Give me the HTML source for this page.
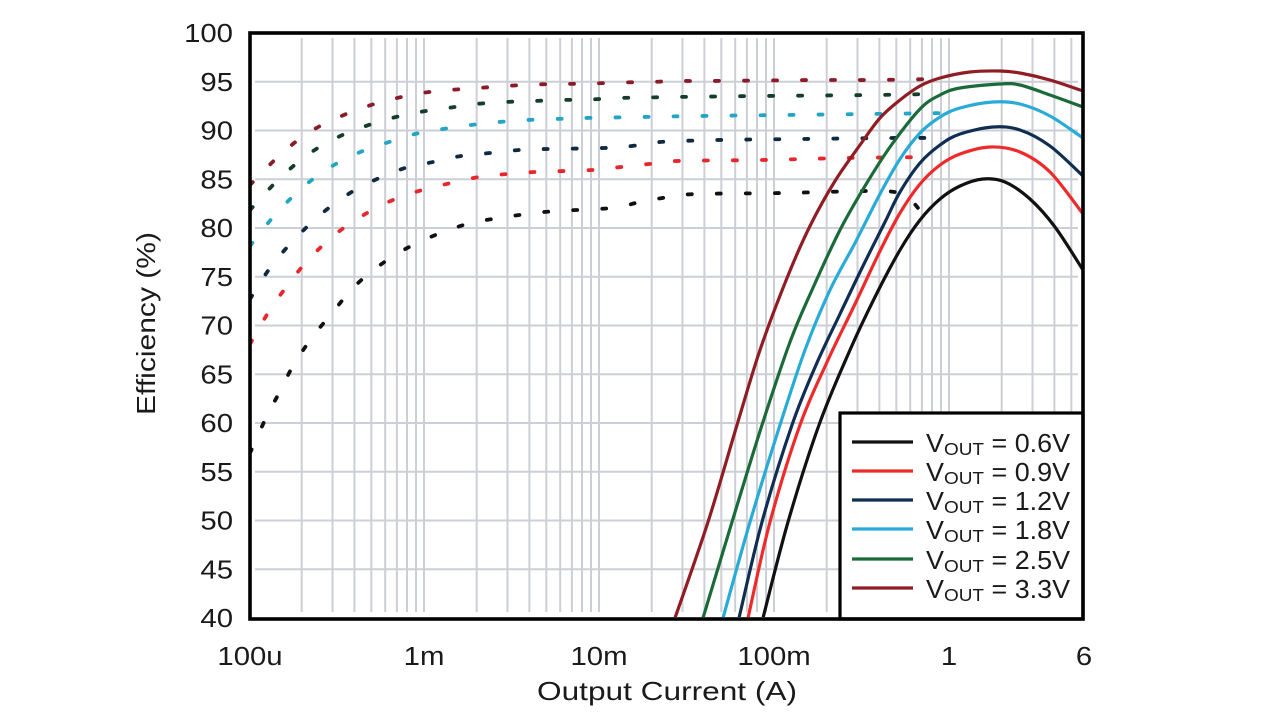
<!DOCTYPE html>
<html><head><meta charset="utf-8"><style>
html,body{margin:0;padding:0;background:#fff;}
svg{display:block;font-family:"Liberation Sans",Arial,sans-serif;}
</style></head><body>
<svg id="chart" width="1280" height="721" viewBox="0 0 1280 721" xmlns="http://www.w3.org/2000/svg">
<defs><clipPath id="pc"><rect x="251" y="35" width="831" height="582"/></clipPath></defs>
<rect width="1280" height="721" fill="#fff"/>
<!-- grid -->
<g stroke="#cdcfd6" stroke-width="2" fill="none">
<path d="M301.7,38V612M332.5,38V612M354.4,38V612M371.3,38V612M385.2,38V612M396.9,38V612M407,38V612M416,38V612M424,38V612
M476.7,38V612M507.5,38V612M529.4,38V612M546.3,38V612M560.2,38V612M571.9,38V612M582,38V612M591,38V612M599,38V612
M651.7,38V612M682.5,38V612M704.4,38V612M721.3,38V612M735.2,38V612M746.9,38V612M757,38V612M766,38V612M774,38V612
M826.7,38V612M857.5,38V612M879.4,38V612M896.3,38V612M910.2,38V612M921.9,38V612M932,38V612M941,38V612M949,38V612
M1001.7,38V612M1032.5,38V612M1054.4,38V612M1071.3,38V612"/>
<path d="M255,81.75H1078M255,130.5H1078M255,179.25H1078M255,228H1078M255,276.75H1078M255,325.5H1078M255,374.25H1078M255,423H1078M255,471.75H1078M255,520.5H1078M255,569.25H1078"/>
</g>
<g clip-path="url(#pc)" fill="none" stroke-linejoin="round">
<!-- dotted (light load) -->
<g stroke-width="3.8" stroke-linecap="round" stroke-dasharray="4 25">
<polyline class="sm" stroke="#8b1b28" points="250,185 280,155 308,133 337,118 365,107 393,99 422,93 450,90 478,88 506,86 535,84.5 563,84 591,83.5 620,82.5 649,82 677,81 705,81 762,80.5 818,80 875,80 935,79"/>
<polyline class="sm" stroke="#143d2a" points="250,210 278,180 306,156 334,139 363,127 392,118 420,112 448,108 476,104 505,102 533,101 562,100 590,99.5 619,98 647,97.5 675,97 760,96 873,95 932,94"/>
<polyline class="sm" stroke="#22a6c4" points="250,246 274,216 302,188 329,168 358,153 386,143 415,134 443,129 471,125 499,122 527,120 556,119 584,118 641,117 697,116 783,115 868,114 950,113"/>
<polyline class="sm" stroke="#0f2940" points="250,299 270,268 292,242 320,215 350,193 377,179 405,168 433,162 461,156 490,153 519,150 547,149 604,148 632,146 660,142 717,140 802,139 887,138 945,138"/>
<polyline class="sm" stroke="#e8262c" points="250,344 268,313 287,286 309,259 337,233 367,213 393,200 422,190 451,183 479,177 507,174 535,172 592,170 621,167 649,164 677,161 763,160 846,158 933,157"/>
<polyline class="sm" stroke="#111" points="250,453 265,420 279,393 293,366 311,339 332,313 356,285 383,263 411,246 443,232 471,223 499,218 527,214 556,211 612,208 640,202 669,197 697,194 782,193 866,191 895,192 908,197 918,208"/>
</g>
<!-- solid -->
<g stroke-width="3.2">
<polyline class="sm" stroke="#111" points="763,618 788,522 819,425 850,350 875,297 900,250 920,220 940,199 960,186 983,179 1005,182 1030,199 1055,227 1083,270"/>
<polyline class="sm" stroke="#ee2a2a" points="748,618 770,522 800,425 828,360 855,304 880,251 900,213 920,184 940,165 960,154 990,147 1020,152 1050,172 1083,214"/>
<polyline class="sm" stroke="#0f2e52" points="739,618 762,522 792,425 816,365 840,314 862,268 885,222 900,192 920,163 940,145 960,134 993,127 1020,130 1050,146 1083,176"/>
<polyline class="sm" stroke="#29abd8" points="723,618 750,522 780,425 805,350 830,290 855,243 880,194 900,159 920,133 940,117 960,108 993,102 1020,104 1050,116 1083,138"/>
<polyline class="sm" stroke="#1a6a3a" points="703,618 732,522 762,425 790,342 812,290 840,230 865,186 890,147 920,109 940,95 960,88 1000,84 1020,85 1050,95 1083,107"/>
<polyline class="sm" stroke="#8f1d23" points="675,618 708,522 737,425 760,350 787,278 810,226 835,181 860,145 880,118 900,100 920,86 940,78 970,72 1000,71 1020,73 1050,80 1083,91"/>
</g>
</g>
<!-- legend -->
<rect x="840" y="413" width="243" height="206" fill="#fff" stroke="#000" stroke-width="3.2"/>
<g stroke-width="3.2">
<line x1="852" y1="442" x2="913" y2="442" stroke="#111"/>
<line x1="852" y1="471" x2="913" y2="471" stroke="#ee2a2a"/>
<line x1="852" y1="500" x2="913" y2="500" stroke="#0f2e52"/>
<line x1="852" y1="529" x2="913" y2="529" stroke="#29abd8"/>
<line x1="852" y1="559" x2="913" y2="559" stroke="#1a6a3a"/>
<line x1="852" y1="588" x2="913" y2="588" stroke="#8f1d23"/>
</g>
<g fill="#1a1a1a" font-size="25.5">
<text transform="translate(926,452) scale(1.055,1)">V<tspan font-size="18" dy="3">OUT</tspan><tspan dy="-3"> = 0.6V</tspan></text>
<text transform="translate(926,481) scale(1.055,1)">V<tspan font-size="18" dy="3">OUT</tspan><tspan dy="-3"> = 0.9V</tspan></text>
<text transform="translate(926,510) scale(1.055,1)">V<tspan font-size="18" dy="3">OUT</tspan><tspan dy="-3"> = 1.2V</tspan></text>
<text transform="translate(926,539) scale(1.055,1)">V<tspan font-size="18" dy="3">OUT</tspan><tspan dy="-3"> = 1.8V</tspan></text>
<text transform="translate(926,569) scale(1.055,1)">V<tspan font-size="18" dy="3">OUT</tspan><tspan dy="-3"> = 2.5V</tspan></text>
<text transform="translate(926,598) scale(1.055,1)">V<tspan font-size="18" dy="3">OUT</tspan><tspan dy="-3"> = 3.3V</tspan></text>
</g>
<!-- plot border -->
<rect x="250" y="33" width="833" height="586" fill="none" stroke="#000" stroke-width="3.6"/>
<!-- y tick labels -->
<g fill="#1a1a1a" font-size="25.5" text-anchor="end">
<text transform="translate(233,42.2) scale(1.15,1)">100</text>
<text transform="translate(233,91) scale(1.15,1)">95</text>
<text transform="translate(233,139.7) scale(1.15,1)">90</text>
<text transform="translate(233,188.5) scale(1.15,1)">85</text>
<text transform="translate(233,237.2) scale(1.15,1)">80</text>
<text transform="translate(233,286) scale(1.15,1)">75</text>
<text transform="translate(233,334.7) scale(1.15,1)">70</text>
<text transform="translate(233,383.5) scale(1.15,1)">65</text>
<text transform="translate(233,432.2) scale(1.15,1)">60</text>
<text transform="translate(233,481) scale(1.15,1)">55</text>
<text transform="translate(233,529.7) scale(1.15,1)">50</text>
<text transform="translate(233,578.5) scale(1.15,1)">45</text>
<text transform="translate(233,627.2) scale(1.15,1)">40</text>
</g>
<!-- x tick labels -->
<g fill="#1a1a1a" font-size="25.5" text-anchor="middle">
<text transform="translate(250,665) scale(1.15,1)">100u</text>
<text transform="translate(424,665) scale(1.15,1)">1m</text>
<text transform="translate(599,665) scale(1.15,1)">10m</text>
<text transform="translate(774,665) scale(1.15,1)">100m</text>
<text transform="translate(949,665) scale(1.15,1)">1</text>
<text transform="translate(1084,665) scale(1.15,1)">6</text>
</g>
<!-- axis titles -->
<text x="537" y="700" font-size="26" fill="#1a1a1a" textLength="260" lengthAdjust="spacingAndGlyphs">Output Current (A)</text>
<text transform="translate(155,415) rotate(-90)" font-size="26" fill="#1a1a1a" textLength="183" lengthAdjust="spacingAndGlyphs">Efficiency (%)</text>
</svg>
<script>
(function(){
  var NS="http://www.w3.org/2000/svg";
  var pls=document.querySelectorAll("polyline.sm");
  for(var i=0;i<pls.length;i++){
    var pl=pls[i];
    var raw=pl.getAttribute("points").trim().split(/\s+/);
    var p=[];
    for(var j=0;j<raw.length;j++){var c=raw[j].split(",");p.push([+c[0],+c[1]]);}
    if(p.length<3)continue;
    var d="M"+p[0][0]+","+p[0][1];
    for(var k=0;k<p.length-1;k++){
      var p0=p[k>0?k-1:k],p1=p[k],p2=p[k+1],p3=p[k+2<p.length?k+2:k+1];
      var c1x=p1[0]+(p2[0]-p0[0])/6,c1y=p1[1]+(p2[1]-p0[1])/6;
      var c2x=p2[0]-(p3[0]-p1[0])/6,c2y=p2[1]-(p3[1]-p1[1])/6;
      d+="C"+c1x.toFixed(2)+","+c1y.toFixed(2)+" "+c2x.toFixed(2)+","+c2y.toFixed(2)+" "+p2[0]+","+p2[1];
    }
    var path=document.createElementNS(NS,"path");
    path.setAttribute("d",d);
    path.setAttribute("stroke",pl.getAttribute("stroke"));
    path.setAttribute("fill","none");
    pl.parentNode.replaceChild(path,pl);
  }
})();
</script>
</body></html>
